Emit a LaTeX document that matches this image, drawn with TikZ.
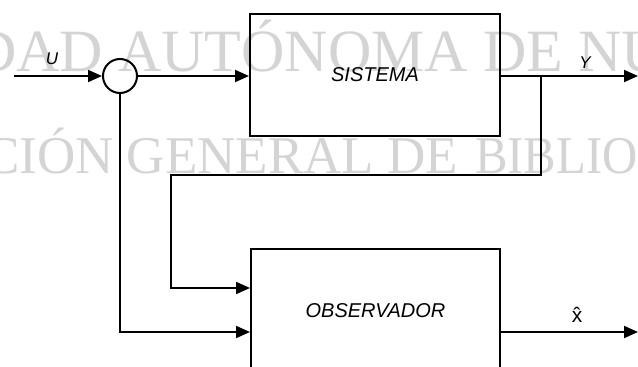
\documentclass[tikz,border=0pt]{standalone}
\usepackage{fontspec}
\setmainfont{Liberation Serif}
\setsansfont{Liberation Sans}
\usetikzlibrary{arrows.meta}
\begin{document}
\begin{tikzpicture}[x=1pt,y=-1pt,
  wm/.style={text=black!17, inner sep=0pt, anchor=base west},
  blk/.style={draw, line width=2pt, font=\sffamily\itshape\fontsize{20}{20}\selectfont, inner sep=0pt},
  lbl/.style={font=\sffamily\itshape\fontsize{17}{17}\selectfont, inner sep=0pt},
  arr/.style={line width=2pt, -{Triangle[length=14pt,width=12pt]}}]
\useasboundingbox (0,0) rectangle (638,367);
\clip (0,0) rectangle (638,367);
\fill[white] (0,0) rectangle (638,367);
% watermark
\node[wm, font=\fontsize{60}{60}\selectfont] (wm1) at (-27,71) {DAD AUTÓNOMA DE NU};
\node[wm, font=\fontsize{53}{53}\selectfont] (wm2) at (-16,173) {CIÓN GENERAL DE};
\node[wm, font=\fontsize{53}{53}\selectfont, xscale=0.92] (wm3) at (475,173) {BIBLIO};
% blocks
\node[blk, minimum width=250pt, minimum height=122pt] (sis) at (375,75) {SISTEMA};
\node[blk, minimum width=249pt, minimum height=124pt] (obs) at (375.5,311) {OBSERVADOR};
\node[draw, circle, line width=2pt, minimum size=34pt, inner sep=0pt] (sum) at (120,76) {};
% helper coordinates
\coordinate (uin) at (14,76);
\coordinate (yout) at (638,76);
\coordinate (br) at (541,76);
\coordinate (fb) at (171,175);
\coordinate (h1) at (0,288);
\coordinate (h2) at (0,332);
\coordinate (xout) at (638,332);
% connectors
\draw[arr] (uin) -- (sum.west);
\draw[arr] (sum.east) -- (sum.east -| sis.west);
\draw[arr] (sis.east |- yout) -- (yout);
\draw[arr] (br) |- (fb) |- (obs.west |- h1);
\draw[arr] (sum.south) |- (obs.west |- h2);
\draw[arr] (obs.east |- h2) -- (xout);
% labels
\node[lbl] (lu) at (52,59) {U};
\node[lbl] (ly) at (585,63) {Y};
\node[lbl, font=\sffamily\fontsize{21}{21}\selectfont] (lx) at (577,315) {\^{x}};
\end{tikzpicture}
\end{document}
